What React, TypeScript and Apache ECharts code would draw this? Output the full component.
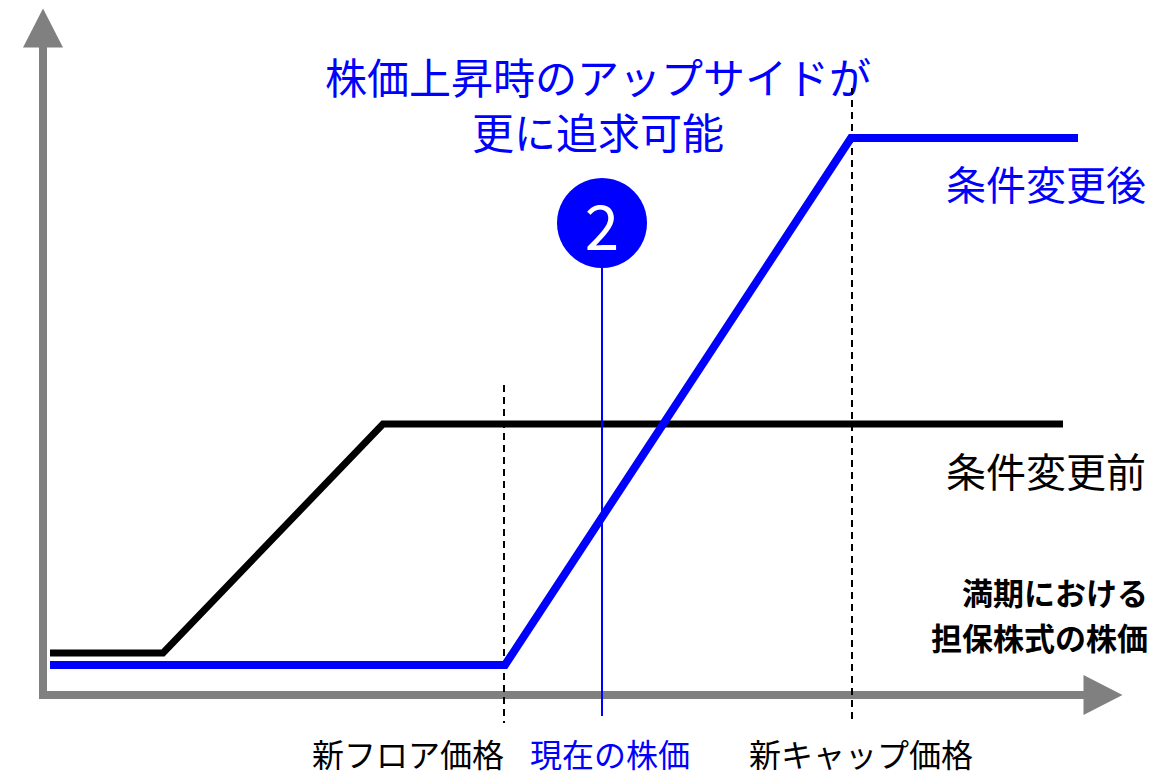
import React, { useEffect, useRef } from "react";
import * as echarts from "echarts";

// Schematic payoff chart: values are in plot units (x: 0..1060, y: 0..667)
const xRange = [0, 1060];
const yRange = [0, 667];
const beforeX = [7, 120, 340, 1020];
const beforeY = [42, 42, 271, 271];
const afterX = [7, 462, 808, 1035];
const afterY = [30, 30, 557, 557];
const floorX = 461;
const capX = 809;
const currentX = 559;
const floorGuideY = [310, -28];
const capGuideY = [607, -28];
const currentGuideY = [427, -21];
const badgeY = 472;
const badgeLabel = "2";
const titleLines = ["株価上昇時のアップサイドが", "更に追求可能"];
const afterLabel = "条件変更後";
const beforeLabel = "条件変更前";
const axisTitleLines = ["満期における", "担保株式の株価"];
const bottomLabels = ["新フロア価格", "現在の株価", "新キャップ価格"];

const BLUE = "#0000ff";
const GRAY = "#808080";
const FONT = '"Noto Sans CJK JP", "Noto Sans", sans-serif';

const zip = (xs: number[], ys: number[]) => xs.map((x, i) => [x, ys[i]]);

export default function App() {
  const ref = useRef<HTMLDivElement>(null);
  useEffect(() => {
    if (!ref.current) return;
    const chart = echarts.init(ref.current, undefined, { renderer: "svg" });
    const text = (
      t: string,
      x: number,
      y: number,
      size: number,
      color: string,
      align: string,
      weight = "normal",
      lineHeight?: number
    ) => ({
      type: "text",
      x,
      y,
      style: {
        text: t,
        fill: color,
        fontSize: size,
        fontFamily: FONT,
        fontWeight: weight,
        textAlign: align,
        textVerticalAlign: "middle",
        lineHeight: lineHeight ?? Math.round(size * 1.2),
      },
    });
    chart.setOption({
      animation: false,
      backgroundColor: "#ffffff",
      grid: { left: 43, top: 28, width: 1060, height: 667 },
      xAxis: {
        type: "value",
        min: xRange[0],
        max: xRange[1],
        axisLine: {
          show: true,
          onZero: false,
          symbol: ["none", "triangle"],
          symbolSize: [40, 39],
          lineStyle: { color: GRAY, width: 8 },
        },
        axisTick: { show: false },
        axisLabel: { show: false },
        splitLine: { show: false },
      },
      yAxis: {
        type: "value",
        min: yRange[0],
        max: yRange[1],
        axisLine: {
          show: true,
          onZero: false,
          symbol: ["none", "triangle"],
          symbolSize: [40, 39],
          lineStyle: { color: GRAY, width: 8, cap: "square" },
        },
        axisTick: { show: false },
        axisLabel: { show: false },
        splitLine: { show: false },
      },
      series: [
        {
          type: "line",
          data: zip([floorX, floorX], floorGuideY),
          symbol: "none",
          clip: false,
          z: 1,
          lineStyle: { color: "#000", width: 2, type: [7, 5] },
        },
        {
          type: "line",
          data: zip([capX, capX], capGuideY),
          symbol: "none",
          clip: false,
          z: 1,
          lineStyle: { color: "#000", width: 2, type: [7, 5] },
        },
        {
          type: "line",
          data: zip(beforeX, beforeY),
          symbol: "none",
          clip: false,
          z: 2,
          lineStyle: { color: "#000", width: 7, join: "miter" },
        },
        {
          type: "line",
          data: zip(afterX, afterY),
          symbol: "none",
          clip: false,
          z: 3,
          lineStyle: { color: BLUE, width: 8, join: "miter" },
        },
        {
          type: "line",
          data: zip([currentX, currentX], currentGuideY),
          symbol: "none",
          clip: false,
          z: 4,
          lineStyle: { color: BLUE, width: 2 },
        },
        {
          type: "scatter",
          data: [[currentX, badgeY]],
          symbol: "circle",
          symbolSize: 90,
          clip: false,
          z: 5,
          itemStyle: { color: BLUE, opacity: 1 },
          label: {
            show: true,
            position: "inside",
            formatter: badgeLabel,
            color: "#ffffff",
            fontSize: 62,
            fontFamily: FONT,
          },
        },
      ],
      graphic: [
        text(titleLines.join("\n"), 598, 103, 42, BLUE, "center", "normal", 55),
        text(afterLabel, 1146, 183, 40, BLUE, "right"),
        text(beforeLabel, 1146, 470, 40, "#000", "right"),
        text(axisTitleLines.join("\n"), 1148, 614, 31, "#000", "right", "bold", 45),
        text(bottomLabels[0], 408, 753, 32, "#000", "center", "normal", 36),
        text(bottomLabels[1], 610, 753, 32, BLUE, "center", "normal", 36),
        text(bottomLabels[2], 861, 753, 32, "#000", "center", "normal", 36),
      ],
    });
    return () => chart.dispose();
  }, []);
  return (
    <div
      ref={ref}
      style={{ position: "fixed", left: 0, top: 0, width: 1168, height: 778 }}
    />
  );
}
